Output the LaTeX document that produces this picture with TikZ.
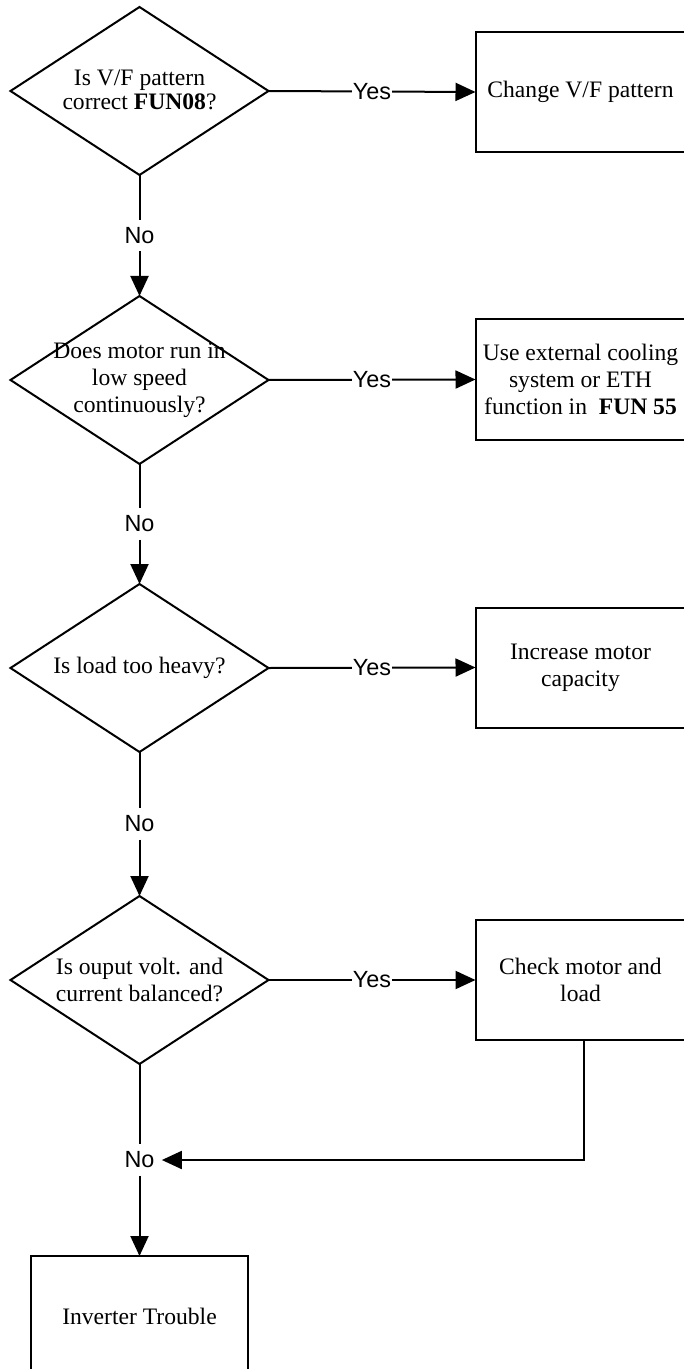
\documentclass[tikz,border=0pt]{standalone}
\usepackage{fontspec}
\setmainfont{Liberation Serif}
\newfontfamily\labelfont{Liberation Sans}
\usetikzlibrary{shapes.geometric,arrows.meta,calc}
\begin{document}
\begin{tikzpicture}[x=0.5pt,y=-0.5pt,
  dia/.style={draw, diamond, minimum width=129pt, minimum height=84pt, inner sep=0pt, outer sep=0pt, line width=1pt},
  dtxt/.style={align=center, inner sep=0pt, font=\fontsize{11.8}{13.6}\selectfont},
  boxnode/.style={draw, rectangle, minimum width=105pt, minimum height=60pt, inner sep=0pt, outer sep=0pt, align=center, line width=1pt, font=\fontsize{11.8}{13.6}\selectfont},
  yeslbl/.style={font=\labelfont\fontsize{11.7}{13.6}\selectfont, fill=white, inner sep=0.3pt},
  nolbl/.style={font=\labelfont\fontsize{11.7}{13.6}\selectfont, fill=white, inner sep=3.5pt},
  arr/.style={-{Triangle[length=10pt,width=9pt]}, line width=1pt},
  plain/.style={line width=1pt}]
\useasboundingbox (0,0) rectangle (684,1369);

% decisions
\node[dia] (d1) at (139.5,91) {};
\node[dtxt, font=\fontsize{11.8}{11.8}\selectfont] (d1t) at (139.5,90) {Is V/F pattern\\correct \textbf{FUN08}?};
\node[dia] (d2) at (139.5,380) {};
\node[dtxt] (d2t) at (139.5,380) {Does motor run in\\low speed\\continuously?};
\node[dia] (d3) at (139.5,668) {};
\node[dtxt] (d3t) at (139.5,668) {Is load too heavy?};
\node[dia] (d4) at (139.5,980) {};
\node[dtxt] (d4t) at (139.5,980) {Is ouput volt. and\\current balanced?};

% actions
\node[boxnode] (b1) at (580.5,92) {Change V/F pattern};
\node[boxnode] (b2) at (580.5,379.5) {Use external cooling\\system or ETH\\function in \ \textbf{FUN 55}};
\node[boxnode] (b3) at (580.5,667.5) {Increase motor\\capacity};
\node[boxnode] (b4) at (580.5,980) {Check motor and\\load};
\node[boxnode, minimum width=108.5pt] (b5) at (139.5,1316) {Inverter Trouble};

% No labels
\node[nolbl] (n1) at ($(d1.south)!0.5!(d2.north)$) {No};
\node[nolbl] (n2) at ($(d2.south)!0.5!(d3.north)$) {No};
\node[nolbl] (n3) at ($(d3.south)!0.5!(d4.north)$) {No};
\node[nolbl] (n4) at ($(d4.south)!0.5!(b5.north)$) {No};

% Yes connectors
\draw[arr] (d1.east) -- node[yeslbl] (y1) {Yes} (b1.west);
\draw[arr] (d2.east) -- node[yeslbl] (y2) {Yes} (b2.west);
\draw[arr] (d3.east) -- node[yeslbl] (y3) {Yes} (b3.west);
\draw[arr] (d4.east) -- node[yeslbl] (y4) {Yes} (b4.west);

% No connectors
\draw[plain] (d1.south) -- (n1);
\draw[arr] (n1) -- (d2.north);
\draw[plain] (d2.south) -- (n2);
\draw[arr] (n2) -- (d3.north);
\draw[plain] (d3.south) -- (n3);
\draw[arr] (n3) -- (d4.north);
\draw[plain] (d4.south) -- (n4);
\draw[arr] (n4) -- (b5.north);

% merge
\coordinate (m1) at ([xshift=1.75pt]b4.south);
\draw[arr] (m1) |- (n4.east);
\end{tikzpicture}
\end{document}
